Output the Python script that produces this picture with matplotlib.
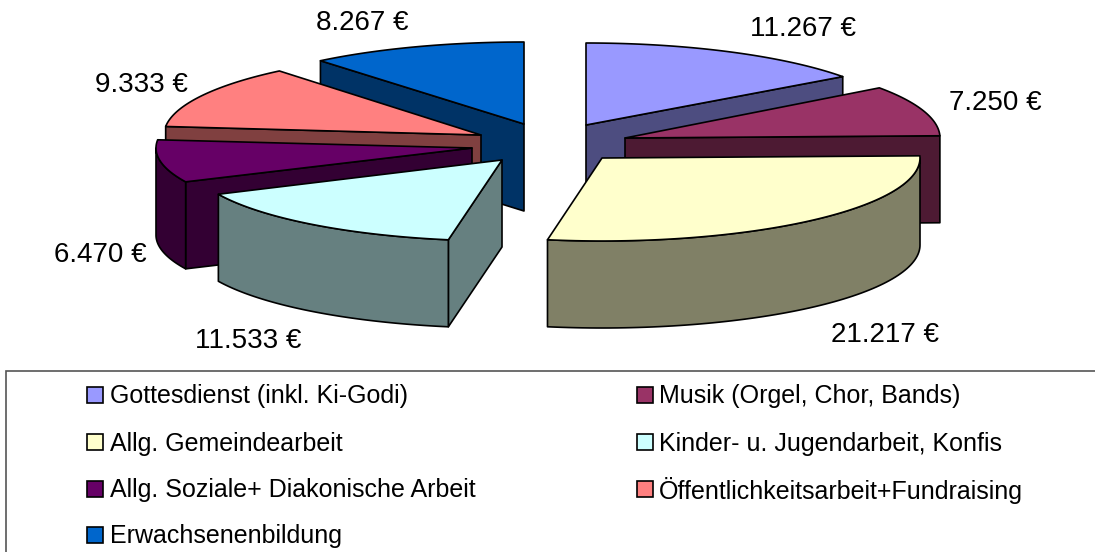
#!/usr/bin/env python
"""
Exploded 3D pie of the budget items, with a boxed legend below.
"""
import numpy as np
import matplotlib.pyplot as plt
from matplotlib.patches import Polygon, Rectangle

plt.rcParams['font.family'] = ['Liberation Sans', 'DejaVu Sans']

# Data
categories = ['Gottesdienst (inkl. Ki-Godi)', 'Musik (Orgel, Chor, Bands)',
              'Allg. Gemeindearbeit', 'Kinder- u. Jugendarbeit, Konfis',
              'Allg. Soziale+ Diakonische Arbeit',
              'Öffentlichkeitsarbeit+Fundraising', 'Erwachsenenbildung']
values = [11267, 7250, 21217, 11533, 6470, 9333, 8267]
value_labels = ['11.267 €', '7.250 €', '21.217 €', '11.533 €', '6.470 €',
                '9.333 €', '8.267 €']

# Styles and layout, all in pixels of the image
top_colors = ['#9999FF', '#993366', '#FFFFCC', '#CCFFFF', '#660066',
              '#FF8080', '#0066CC']
side_colors = ['#4D4D80', '#4D1A33', '#808066', '#668080', '#330033',
               '#804040', '#003366']
apexes = [(586, 125), (625, 138), (602, 158), (502, 160), (472, 148),
          (481, 135), (524, 124)]
radii = [(318, 82), (315, 85), (318, 83), (313, 81), (316, 80),
         (317, 83), (320, 82)]
label_pos = [(803, 29), (995, 103), (885, 335), (248, 341), (100, 255),
             (141, 85), (362, 23)]
draw_order = [0, 6, 5, 1, 4, 3, 2]
height = 87

W, H = 1095, 552
fig = plt.figure(figsize=(W / 100, H / 100), dpi=100)
ax = fig.add_axes([0, 0, 1, 1])
ax.set_xlim(0, W)
ax.set_ylim(H, 0)
ax.axis('off')

# Angles run clockwise from 12 o'clock
edges = np.cumsum([0] + values) / sum(values) * 2 * np.pi


def rim(apex, radius, t0, t1, n=80):
    t = np.linspace(t0, t1, n)
    return np.column_stack([apex[0] + radius[0] * np.sin(t),
                            apex[1] - radius[1] * np.cos(t)])


def face(points, color, z):
    ax.add_patch(Polygon(points, closed=True, facecolor=color,
                         edgecolor='black', lw=1.2, joinstyle='round',
                         zorder=z))


for z, i in enumerate(draw_order):
    t0, t1 = edges[i], edges[i + 1]
    apex, radius = apexes[i], radii[i]
    z = z * 10
    drop = np.array([0, height])

    # Radial walls, only those turned towards the viewer
    for t, seen in [(t0, np.sin(t0) < -1e-6), (t1, np.sin(t1) > 1e-6)]:
        if seen:
            p = rim(apex, radius, t, t, 1)[0]
            a = np.array(apex, dtype=float)
            face([a, p, p + drop, a + drop], side_colors[i], z + 1)

    # Outer wall, front half of the rim only
    f0, f1 = max(t0, np.pi / 2), min(t1, 3 * np.pi / 2)
    if f1 > f0:
        arc = rim(apex, radius, f0, f1)
        face(np.vstack([arc, arc[::-1] + drop]), side_colors[i], z + 2)

    # Top surface
    face(np.vstack([[apex], rim(apex, radius, t0, t1)]), top_colors[i], z + 3)

for (x, y), s in zip(label_pos, value_labels):
    ax.text(x, y, s, fontsize=20, ha='center', va='center', color='black',
            zorder=200)

# Legend box runs off the right and bottom of the image
ax.add_patch(Rectangle((5.5, 371), W, H, facecolor='white', edgecolor='#555555',
                       lw=1.2, zorder=150))
legend_x = [87, 637]
legend_text_x = [110, 659]
legend_y = [395, 442, 489, 535]
for i, name in enumerate(categories):
    y = legend_y[i // 2]
    ax.add_patch(Rectangle((legend_x[i % 2], y - 8), 16, 16,
                           facecolor=top_colors[i], edgecolor='black', lw=1.2,
                           zorder=160))
    ax.text(legend_text_x[i % 2], y + 1.5, name, fontsize=18, ha='left',
            va='center', color='black', zorder=160)

fig.savefig('out.png', dpi=100)
